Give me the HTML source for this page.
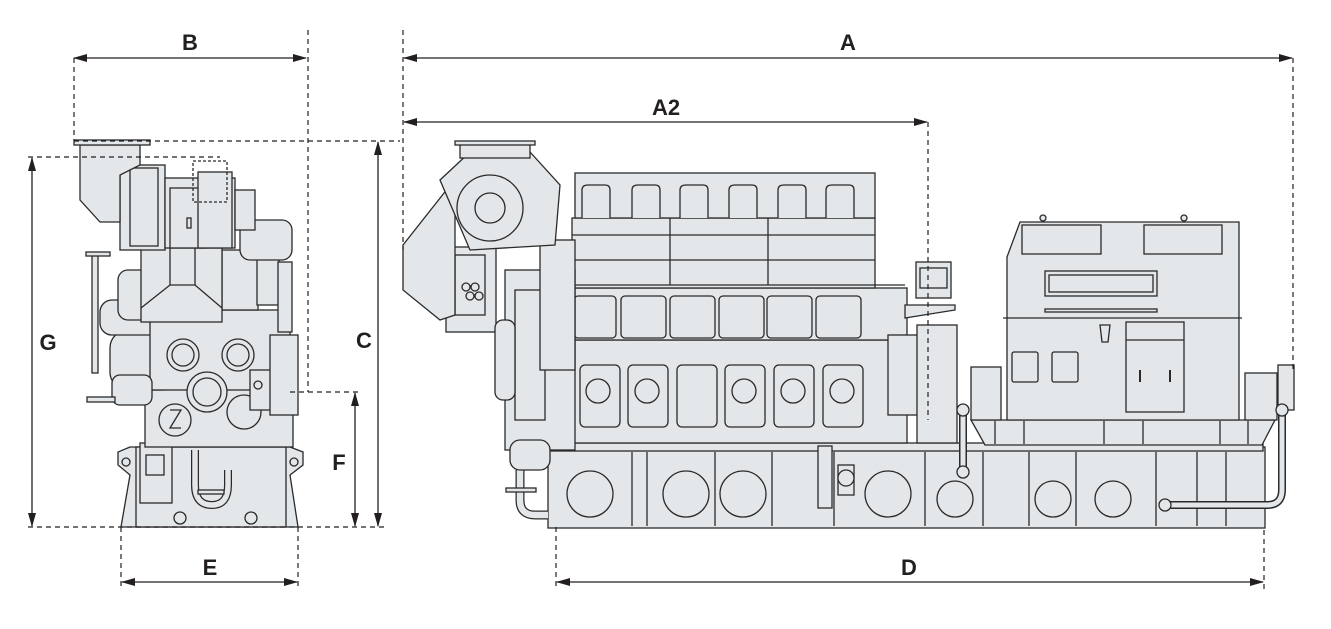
<!DOCTYPE html>
<html><head><meta charset="utf-8"><style>
html,body{margin:0;padding:0;background:#fff;}
svg{display:block;}
text{font-family:"Liberation Sans",sans-serif;font-weight:bold;font-size:22px;fill:#231f20;}
</style></head><body>
<svg width="1331" height="629" viewBox="0 0 1331 629" xmlns="http://www.w3.org/2000/svg">
<defs>
<marker id="ar" viewBox="0 0 14 8" refX="13" refY="4" markerWidth="14" markerHeight="8" markerUnits="userSpaceOnUse" orient="auto-start-reverse"><path d="M0,0 L14,4 L0,8 Z" fill="#231f20"/></marker>
</defs>
<g fill="#e3e7ea" stroke="#2a2a2a" stroke-width="1.3">
<!-- ===== FRONT VIEW ===== -->
<path d="M121,527 L130,475 L118,465 L118,452 L130,447 L290,447 L303,452 L303,465 L290,475 L298,527 Z"/>
<rect x="136" y="447" width="150" height="80"/>
<circle cx="126" cy="462" r="4"/><circle cx="294" cy="462" r="4"/>
<circle cx="180" cy="518" r="6"/><circle cx="251" cy="518" r="6"/>
<path d="M195,450 L195,485 Q195,505 212,505 Q228,505 228,485 L228,470" fill="none" stroke-width="8" stroke="#2a2a2a"/>
<path d="M195,450 L195,485 Q195,505 212,505 Q228,505 228,485 L228,470" fill="none" stroke-width="5.5" stroke="#e3e7ea"/>
<rect x="198" y="490" width="26" height="4"/>
<rect x="140" y="443" width="32" height="60"/>
<rect x="146" y="455" width="18" height="20"/>
<rect x="145" y="380" width="148" height="67"/>
<rect x="110" y="330" width="70" height="60" rx="18"/>
<rect x="100" y="300" width="80" height="35" rx="12"/>
<rect x="150" y="310" width="140" height="80"/>
<circle cx="183" cy="355" r="16"/><circle cx="183" cy="355" r="11"/>
<circle cx="238" cy="355" r="16"/><circle cx="238" cy="355" r="11"/>
<circle cx="207" cy="392" r="20"/><circle cx="207" cy="392" r="14"/>
<circle cx="244" cy="412" r="17"/>
<circle cx="175" cy="420" r="16"/><path d="M170,410 L181,410 L170,428 L181,428" fill="none"/>
<rect x="250" y="370" width="40" height="40"/>
<circle cx="258" cy="385" r="4"/>
<rect x="270" y="335" width="28" height="80"/>
<rect x="112" y="375" width="40" height="30" rx="8"/>
<rect x="87" y="397" width="28" height="5"/>
<rect x="92" y="253" width="6" height="120"/><rect x="86" y="252" width="24" height="4"/>
<rect x="118" y="270" width="35" height="50" rx="10"/>
<rect x="222" y="250" width="36" height="60"/>
<rect x="257" y="255" width="22" height="50"/>
<rect x="278" y="262" width="14" height="70"/>
<rect x="240" y="220" width="52" height="40" rx="10"/>
<rect x="141" y="247" width="81" height="75"/>
<path d="M141,308 L170,285 L195,285 L222,308" fill="none"/>
<line x1="170" y1="247" x2="170" y2="285"/><line x1="195" y1="247" x2="195" y2="285"/>
<rect x="120" y="165" width="45" height="85"/>
<rect x="130" y="168" width="28" height="78"/>
<path d="M80,145 L140,145 L140,165 L120,175 L120,222 L100,222 L80,200 Z"/>
<rect x="74" y="140" width="76" height="5"/>
<rect x="165" y="178" width="70" height="70"/>
<rect x="170" y="188" width="36" height="60"/>
<rect x="198" y="172" width="34" height="76"/>
<rect x="187" y="218" width="4" height="10"/>
<rect x="235" y="190" width="20" height="40"/>
<rect x="193" y="161" width="34" height="41" fill="none" stroke-dasharray="3,2"/>
<!-- ===== SIDE VIEW ===== -->
<rect x="548" y="447" width="717" height="81"/>
<rect x="543" y="443" width="720" height="8"/>
<g fill="none">
<line x1="632" y1="452" x2="632" y2="526"/><line x1="647" y1="452" x2="647" y2="526"/>
<line x1="715" y1="452" x2="715" y2="526"/><line x1="772" y1="452" x2="772" y2="526"/>
<line x1="834" y1="452" x2="834" y2="526"/><line x1="925" y1="452" x2="925" y2="526"/>
<line x1="983" y1="452" x2="983" y2="526"/><line x1="1029" y1="452" x2="1029" y2="526"/>
<line x1="1076" y1="452" x2="1076" y2="526"/><line x1="1156" y1="452" x2="1156" y2="526"/>
<line x1="1197" y1="452" x2="1197" y2="526"/><line x1="1226" y1="452" x2="1226" y2="526"/>
</g>
<circle cx="590" cy="494" r="23"/><circle cx="686" cy="494" r="23"/><circle cx="743" cy="494" r="23"/>
<circle cx="888" cy="494" r="23"/><circle cx="955" cy="499" r="18"/><circle cx="1053" cy="499" r="18"/><circle cx="1113" cy="499" r="18"/>
<rect x="818" y="446" width="14" height="62"/>
<rect x="838" y="465" width="16" height="30"/><circle cx="846" cy="478" r="8"/>
<rect x="572" y="340" width="335" height="103"/>
<g fill="none">
<rect x="580" y="365" width="40" height="62" rx="5"/><rect x="628" y="365" width="40" height="62" rx="5"/>
<rect x="677" y="365" width="40" height="62" rx="5"/><rect x="725" y="365" width="40" height="62" rx="5"/>
<rect x="774" y="365" width="40" height="62" rx="5"/><rect x="823" y="365" width="40" height="62" rx="5"/>
</g>
<circle cx="598" cy="391" r="12"/><circle cx="647" cy="391" r="12"/>
<circle cx="744" cy="391" r="12"/><circle cx="793" cy="391" r="12"/><circle cx="842" cy="391" r="12"/>
<rect x="572" y="288" width="335" height="52"/>
<g fill="none">
<rect x="574" y="296" width="42" height="42" rx="4"/><rect x="621" y="296" width="45" height="42" rx="4"/>
<rect x="670" y="296" width="45" height="42" rx="4"/><rect x="719" y="296" width="45" height="42" rx="4"/>
<rect x="767" y="296" width="45" height="42" rx="4"/><rect x="816" y="296" width="45" height="42" rx="4"/>
</g>
<rect x="572" y="218" width="303" height="70"/>
<g fill="none">
<line x1="572" y1="235" x2="875" y2="235"/><line x1="572" y1="260" x2="875" y2="260"/>
<line x1="670" y1="218" x2="670" y2="285"/><line x1="768" y1="218" x2="768" y2="285"/>
<line x1="572" y1="285" x2="905" y2="285"/>
</g>
<rect x="575" y="173" width="300" height="45"/>
<g>
<path d="M582,218 L582,190 Q582,185 588,185 L605,185 Q610,185 610,190 L610,218"/>
<path d="M632,218 L632,190 Q632,185 638,185 L655,185 Q660,185 660,190 L660,218"/>
<path d="M680,218 L680,190 Q680,185 686,185 L703,185 Q708,185 708,190 L708,218"/>
<path d="M729,218 L729,190 Q729,185 735,185 L752,185 Q757,185 757,190 L757,218"/>
<path d="M778,218 L778,190 Q778,185 784,185 L801,185 Q806,185 806,190 L806,218"/>
<path d="M826,218 L826,190 Q826,185 832,185 L849,185 Q854,185 854,190 L854,218"/>
</g>
<rect x="505" y="270" width="70" height="180"/>
<rect x="515" y="290" width="30" height="130"/>
<rect x="540" y="240" width="35" height="130"/>
<path d="M520,470 L520,500 Q520,515 535,515 L548,515" fill="none" stroke-width="9"/>
<path d="M520,470 L520,500 Q520,515 535,515 L548,515" fill="none" stroke-width="6.5" stroke="#e3e7ea"/>
<rect x="510" y="440" width="40" height="30" rx="10"/>
<rect x="506" y="488" width="30" height="4"/>
<rect x="446" y="247" width="50" height="85"/>
<rect x="455" y="255" width="30" height="60"/>
<circle cx="466" cy="287" r="4"/><circle cx="475" cy="287" r="4"/><circle cx="470" cy="296" r="4"/><circle cx="479" cy="296" r="4"/>
<rect x="495" y="320" width="20" height="80" rx="8"/>
<path d="M403,245 L448,188 L455,188 L455,315 L440,320 L403,290 Z"/>
<path d="M440,180 L470,152 L530,152 L560,185 L555,245 L470,250 Z"/>
<rect x="460" y="143" width="70" height="15"/><rect x="455" y="141" width="80" height="4"/>
<circle cx="490" cy="208" r="33"/><circle cx="490" cy="208" r="15"/>
<rect x="888" y="335" width="30" height="80"/>
<rect x="917" y="325" width="40" height="118"/>
<rect x="916" y="262" width="35" height="36"/><rect x="920" y="268" width="27" height="20"/>
<path d="M905,305 L955,305 L955,310 L905,318 Z"/>
<path d="M971,420 L1275,420 L1262,445 L985,445 Z"/>
<g fill="none">
<line x1="995" y1="421" x2="995" y2="444"/><line x1="1024" y1="421" x2="1024" y2="444"/>
<line x1="1104" y1="421" x2="1104" y2="444"/><line x1="1143" y1="421" x2="1143" y2="444"/>
<line x1="1220" y1="421" x2="1220" y2="444"/><line x1="1248" y1="421" x2="1248" y2="444"/>
</g>
<rect x="971" y="367" width="30" height="53"/>
<rect x="1245" y="373" width="32" height="47"/>
<rect x="1278" y="365" width="16" height="45"/>
<path d="M1020,222 L1239,222 L1239,420 L1007,420 L1007,257 Z"/>
<line x1="1003" y1="318" x2="1242" y2="318"/>
<rect x="1022" y="225" width="79" height="29"/><rect x="1144" y="225" width="78" height="29"/>
<rect x="1045" y="271" width="112" height="25"/><rect x="1049" y="275" width="104" height="17" fill="none"/>
<rect x="1045" y="309" width="112" height="3"/>
<rect x="1012" y="352" width="26" height="30" rx="2"/><rect x="1052" y="352" width="26" height="30" rx="2"/>
<rect x="1126" y="322" width="58" height="90"/><line x1="1126" y1="340" x2="1184" y2="340"/>
<line x1="1140" y1="370" x2="1140" y2="382" stroke-width="2"/><line x1="1170" y1="370" x2="1170" y2="382" stroke-width="2"/>
<path d="M1100,325 L1110,325 L1108,342 L1102,342 Z"/>
<circle cx="1043" cy="218" r="3"/><circle cx="1184" cy="218" r="3"/>
<path d="M963,412 L963,470" fill="none" stroke-width="8"/>
<path d="M963,412 L963,470" fill="none" stroke-width="5" stroke="#e3e7ea"/>
<circle cx="963" cy="410" r="6"/><circle cx="963" cy="472" r="6"/>
<path d="M1282,412 L1282,490 Q1282,505 1267,505 L1165,505" fill="none" stroke-width="8"/>
<path d="M1282,412 L1282,490 Q1282,505 1267,505 L1165,505" fill="none" stroke-width="5" stroke="#e3e7ea"/>
<circle cx="1282" cy="410" r="6"/><circle cx="1165" cy="505" r="6"/>
</g>
<g stroke="#231f20" stroke-width="1.2" fill="none" stroke-dasharray="5,4">
<line x1="74" y1="58" x2="74" y2="140"/>
<line x1="308" y1="30" x2="308" y2="392"/>
<line x1="74" y1="141" x2="400" y2="141"/>
<line x1="28" y1="157" x2="220" y2="157"/>
<line x1="28" y1="527" x2="385" y2="527"/>
<line x1="290" y1="392" x2="360" y2="392"/>
<line x1="121" y1="527" x2="121" y2="590"/>
<line x1="298" y1="527" x2="298" y2="590"/>
<line x1="403" y1="30" x2="403" y2="250"/>
<line x1="1293" y1="58" x2="1293" y2="370"/>
<line x1="928" y1="122" x2="928" y2="420"/>
<line x1="556" y1="527" x2="556" y2="590"/>
<line x1="1264" y1="530" x2="1264" y2="590"/>
</g>
<g stroke="#231f20" stroke-width="1.3" fill="none" marker-start="url(#ar)" marker-end="url(#ar)">
<line x1="74" y1="58" x2="306" y2="58"/>
<line x1="404" y1="58" x2="1292" y2="58"/>
<line x1="404" y1="122" x2="927" y2="122"/>
<line x1="378" y1="142" x2="378" y2="526"/>
<line x1="32" y1="158" x2="32" y2="526"/>
<line x1="355" y1="393" x2="355" y2="526"/>
<line x1="122" y1="582" x2="297" y2="582"/>
<line x1="557" y1="582" x2="1263" y2="582"/>
</g>
<text x="190" y="50" text-anchor="middle">B</text>
<text x="848" y="50" text-anchor="middle">A</text>
<text x="666" y="115" text-anchor="middle">A2</text>
<text x="48" y="350" text-anchor="middle">G</text>
<text x="364" y="348" text-anchor="middle">C</text>
<text x="339" y="470" text-anchor="middle">F</text>
<text x="210" y="575" text-anchor="middle">E</text>
<text x="909" y="575" text-anchor="middle">D</text>
</svg>
</body></html>
